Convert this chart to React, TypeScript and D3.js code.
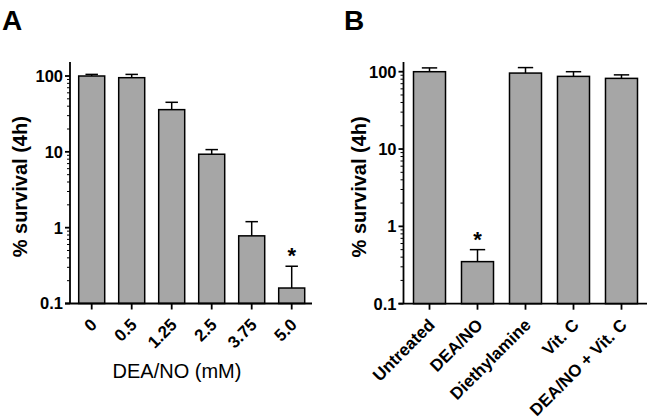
import React from 'react';
import * as d3 from 'd3';

// Panel A: survival vs DEA/NO dose
const doseLabels = ['0', '0.5', '1.25', '2.5', '3.75', '5.0'];
const doseMeans = [100, 95, 36, 9.3, 0.78, 0.16];
const doseErr = [5, 10, 9, 1.4, 0.42, 0.15];
const doseSig = [false, false, false, false, false, true];

// Panel B: survival by treatment
const treatLabels = ['Untreated', 'DEA/NO', 'Diethylamine', 'Vit. C', 'DEA/NO + Vit. C'];
const treatMeans = [100, 0.35, 96, 87, 82];
const treatErr = [12, 0.15, 17, 13, 9];
const treatSig = [false, true, false, false, false];

const yTicks = [0.1, 1, 10, 100];
const yTickLabels = ['0.1', '1', '10', '100'];

const FONT = "'Liberation Sans', Arial, sans-serif";
const BAR_FILL = '#a6a6a6';

type PanelProps = {
  letter: string;
  letterX: number;
  labels: string[];
  means: number[];
  errs: number[];
  sig: boolean[];
  axisX: number;
  axisEnd: number;
  bandRange: [number, number];
  padIn: number;
  padOut: number;
  yBottom: number;
  yTop100: number;
  titleX: number;
  xTitle?: string;
  xTitleX?: number;
};

const Panel: React.FC<PanelProps> = ({
  letter, letterX, labels, means, errs, sig, axisX, axisEnd,
  bandRange, padIn, padOut, yBottom, yTop100, titleX, xTitle, xTitleX,
}) => {
  const x = d3.scaleBand<string>()
    .domain(labels)
    .range(bandRange)
    .paddingInner(padIn)
    .paddingOuter(padOut);

  const y = d3.scaleLog()
    .domain([0.1, 100])
    .range([yBottom, yTop100]);

  const axisTop = 62;
  const bw = x.bandwidth();
  const cap = bw * 0.48;

  // minor ticks 2..9 in each decade
  const minor: number[] = [];
  [0.1, 1, 10].forEach(d => {
    for (let k = 2; k <= 9; k++) minor.push(d * k);
  });

  return (
    <g>
      <text x={letterX} y={30} fontSize={28} fontWeight="bold" fontFamily={FONT}>{letter}</text>

      {/* bars */}
      {labels.map((l, i) => {
        const x0 = x(l) || 0;
        const top = y(means[i]);
        const errTop = y(means[i] + errs[i]);
        const cx = x0 + bw / 2;
        return (
          <g key={l}>
            <line x1={cx} x2={cx} y1={top} y2={errTop} stroke="#000" strokeWidth={1.5} />
            <line x1={cx - cap / 2} x2={cx + cap / 2} y1={errTop} y2={errTop} stroke="#000" strokeWidth={1.5} />
            <rect x={x0} y={top} width={bw} height={yBottom - top}
              fill={BAR_FILL} stroke="#000" strokeWidth={1.5} />
            {sig[i] && (
              <text x={cx} y={errTop - 3} textAnchor="middle" fontSize={22}
                fontWeight="bold" fontFamily={FONT}>*</text>
            )}
          </g>
        );
      })}

      {/* y axis */}
      <line x1={axisX} x2={axisX} y1={axisTop} y2={yBottom} stroke="#000" strokeWidth={1.8} />
      {minor.map(v => (
        <line key={v} x1={axisX - 3} x2={axisX} y1={y(v)} y2={y(v)} stroke="#000" strokeWidth={1} />
      ))}
      {yTicks.map((v, i) => (
        <g key={v}>
          <line x1={axisX - 5} x2={axisX} y1={y(v)} y2={y(v)} stroke="#000" strokeWidth={1.8} />
          <text x={axisX - 7} y={y(v)} dy="0.36em" textAnchor="end" fontSize={16.5}
            fontWeight="bold" fontFamily={FONT}>{yTickLabels[i]}</text>
        </g>
      ))}
      <text transform={`translate(${titleX},${(axisTop + yBottom) / 2 + 4}) rotate(-90)`}
        textAnchor="middle" fontSize={20} fontWeight="bold" fontFamily={FONT}>% survival (4h)</text>

      {/* x axis */}
      <line x1={axisX - 5} x2={axisEnd} y1={yBottom} y2={yBottom} stroke="#000" strokeWidth={1.8} />
      {labels.map(l => {
        const cx = (x(l) || 0) + bw / 2;
        return (
          <g key={l}>
            <line x1={cx} x2={cx} y1={yBottom} y2={yBottom + 6} stroke="#000" strokeWidth={1.8} />
            <text transform={`translate(${cx + 2},${yBottom + 18}) rotate(-45)`} dy="0.36em"
              textAnchor="end" fontSize={17} fontWeight="bold" fontFamily={FONT}>{l}</text>
          </g>
        );
      })}
      {xTitle && (
        <text x={xTitleX} y={378} textAnchor="middle" fontSize={20}
          fontFamily={FONT}>{xTitle}</text>
      )}
    </g>
  );
};

export default function App() {
  return (
    <svg width={650} height={419} style={{ position: 'absolute', left: 0, top: 0, background: '#fff' }}>
      <rect width={650} height={419} fill="#fff" />
      <Panel
        letter="A" letterX={2}
        labels={doseLabels} means={doseMeans} errs={doseErr} sig={doseSig}
        axisX={70} axisEnd={312}
        bandRange={[71.7, 311.7]} padIn={0.35} padOut={0.175}
        yBottom={303.5} yTop100={76}
        titleX={27} xTitle="DEA/NO (mM)" xTitleX={177}
      />
      <Panel
        letter="B" letterX={344}
        labels={treatLabels} means={treatMeans} errs={treatErr} sig={treatSig}
        axisX={403.5} axisEnd={647}
        bandRange={[405.5, 645.5]} padIn={0.333} padOut={0.1667}
        yBottom={303.7} yTop100={71.7}
        titleX={366}
      />
    </svg>
  );
}
